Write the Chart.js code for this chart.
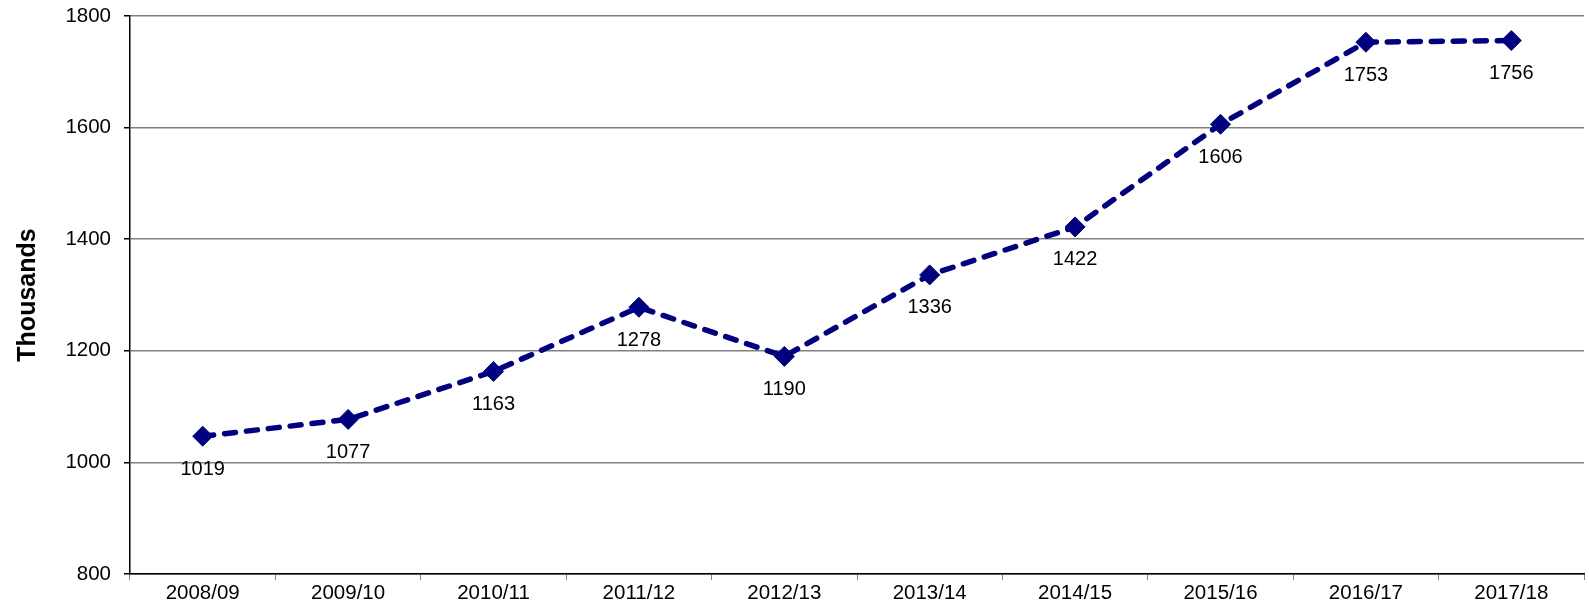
<!DOCTYPE html>
<html>
<head>
<meta charset="utf-8">
<script src="https://cdn.jsdelivr.net/npm/chart.js@4"></script>
<style>
  html, body { margin: 0; padding: 0; background: #fff; overflow: hidden; }
  #wrap { width: 1589px; height: 615px; }
  canvas { display: block; }
</style>
</head>
<body>
<div id="wrap"><canvas id="chart" width="1589" height="615"></canvas></div>
<script>
// Years on the x axis
const years = ['2008/09', '2009/10', '2010/11', '2011/12', '2012/13',
               '2013/14', '2014/15', '2015/16', '2016/17', '2017/18'];
// Plotted values (thousands) as they sit on the y axis
const values = [1047, 1077, 1163, 1278, 1190, 1336, 1422, 1606, 1753, 1756];
// Text printed under each marker (the first one differs from where it is plotted)
const pointLabels = ['1019', '1077', '1163', '1278', '1190', '1336', '1422', '1606', '1753', '1756'];
const yTicks = [800, 1000, 1200, 1400, 1600, 1800];

const FONT = '"Liberation Sans", Arial, sans-serif';
const navy = '#000080';

// draws the number under every marker
const valueLabels = {
    id: 'valueLabels',
    afterDatasetsDraw(chart) {
        const ctx = chart.ctx;
        const meta = chart.getDatasetMeta(0);
        ctx.save();
        ctx.font = `20px ${FONT}`;
        ctx.fillStyle = '#000';
        ctx.textAlign = 'center';
        ctx.textBaseline = 'middle';
        meta.data.forEach((pt, i) => {
            ctx.fillText(pointLabels[i], pt.x, pt.y + 33);
        });
        ctx.restore();
    }
};

const ctx = document.getElementById('chart').getContext('2d');
new Chart(ctx, {
    type: 'line',
    data: {
        labels: years,
        datasets: [{
            data: values,
            borderColor: navy,
            backgroundColor: navy,
            borderWidth: 5.5,
            borderDash: [11, 11],
            borderCapStyle: 'round',
            fill: false,
            tension: 0,
            clip: false,
            pointStyle: 'rectRot',
            pointRadius: 10,
            pointHoverRadius: 10,
            pointBackgroundColor: navy,
            pointBorderColor: navy,
            pointBorderWidth: 1
        }]
    },
    options: {
        responsive: false,
        animation: false,
        events: [],
        layout: { autoPadding: false, padding: { top: 16, right: 5, left: 0, bottom: 0 } },
        plugins: {
            legend: { display: false },
            tooltip: { enabled: false }
        },
        scales: {
            x: {
                offset: true,
                afterFit: s => { s.height = 41; s.paddingLeft = 0; s.paddingRight = 0; },
                border: { display: true, color: '#000', width: 1.5 },
                grid: {
                    offset: true,
                    drawOnChartArea: false,
                    drawTicks: true,
                    tickLength: 6,
                    tickColor: '#808080'
                },
                ticks: {
                    color: '#000',
                    padding: 1,
                    maxRotation: 0,
                    font: { family: FONT, size: 20.5 }
                }
            },
            y: {
                min: 800,
                max: 1800,
                afterFit: s => { s.width = 130; s.paddingTop = 0; s.paddingBottom = 0; },
                afterBuildTicks: s => { s.ticks = yTicks.map(v => ({ value: v })); },
                border: { display: true, color: '#000', width: 1.5 },
                grid: {
                    color: '#808080',
                    lineWidth: 1.5,
                    tickLength: 6,
                    tickColor: '#000'
                },
                ticks: {
                    color: '#000',
                    padding: 13,
                    font: { family: FONT, size: 20.5 },
                    callback: v => String(v)
                },
                title: {
                    display: true,
                    text: 'Thousands',
                    color: '#000',
                    padding: { top: 13, bottom: 0 },
                    font: { family: FONT, size: 25, weight: 'bold' }
                }
            }
        }
    },
    plugins: [valueLabels]
});
</script>
</body>
</html>
